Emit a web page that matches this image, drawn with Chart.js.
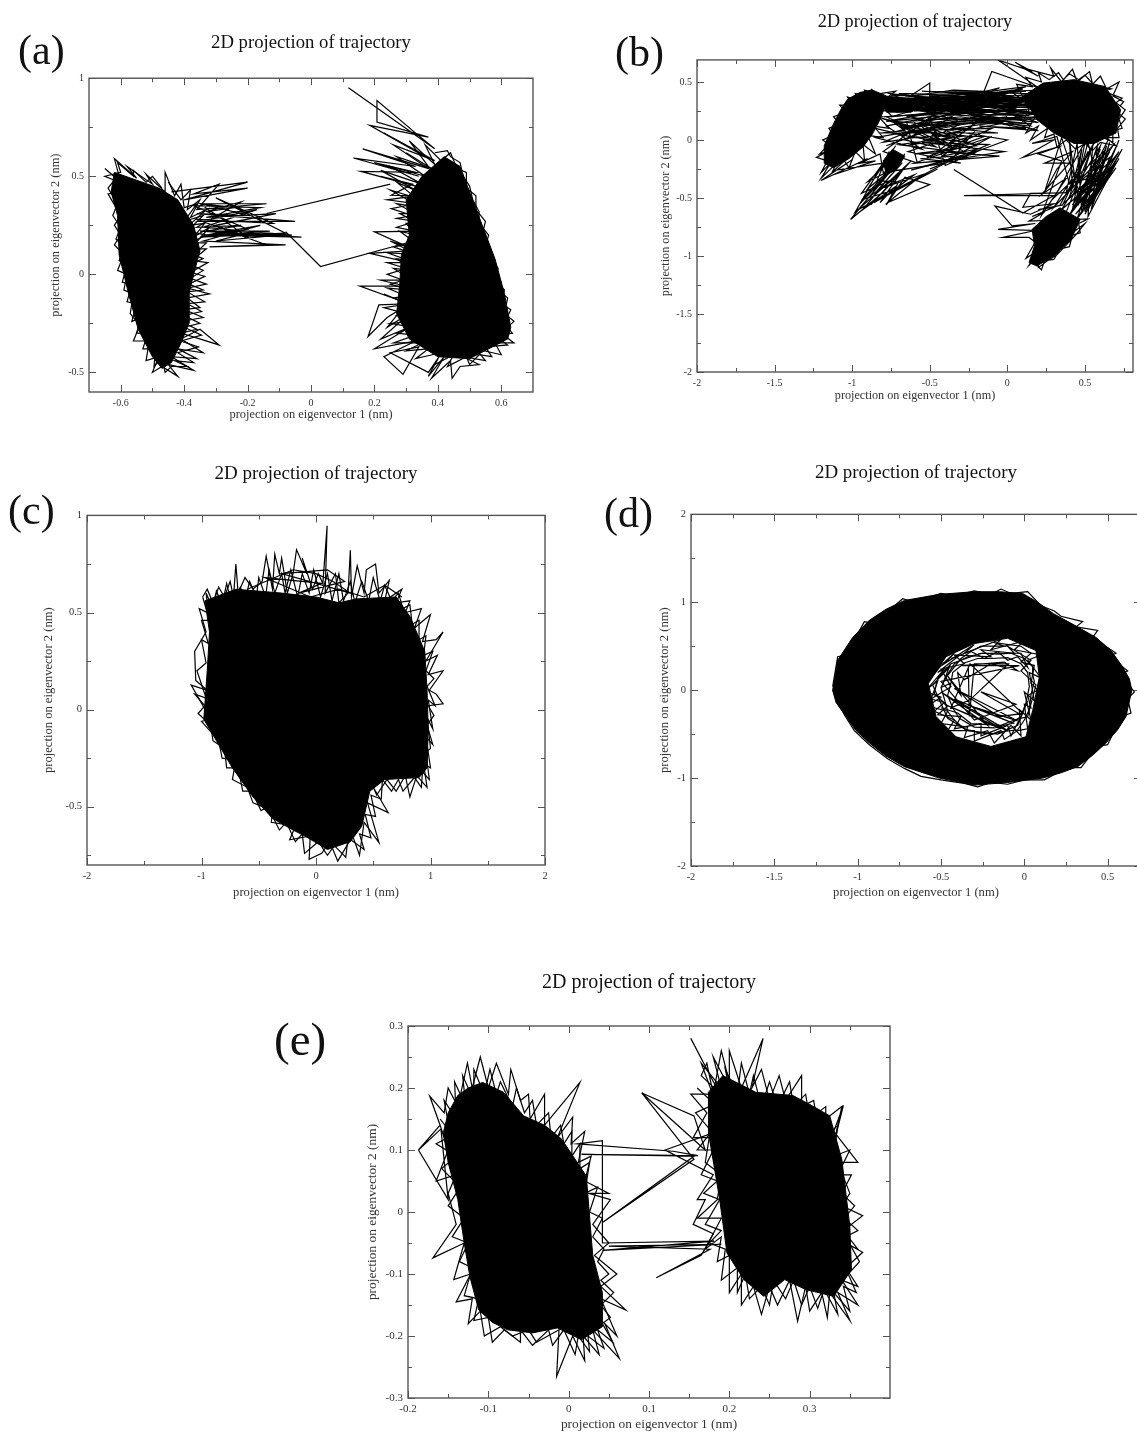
<!DOCTYPE html>
<html><head><meta charset="utf-8">
<script src="https://cdn.jsdelivr.net/npm/chart.js@4/dist/chart.umd.min.js"></script>
<style>
html,body{margin:0;padding:0;background:#fff;width:1137px;height:1434px;overflow:hidden;position:relative}
canvas{position:absolute;filter:blur(.5px)}
.tag{position:absolute;font-family:"Liberation Serif",serif;color:#111;line-height:1;filter:blur(.3px)}
</style></head><body>
<script>
const titleText = "2D projection of trajectory";
const xLabel = "projection on eigenvector 1 (nm)";
const yLabel = "projection on eigenvector 2 (nm)";

/* ---------- tick values ---------- */
const aXTicks=[-.6,-.4,-.2,0,.2,.4,.6], aYTicks=[-.5,0,.5,1];
const bXTicks=[-2,-1.5,-1,-.5,0,.5], bYTicks=[-2,-1.5,-1,-.5,0,.5];
const cXTicks=[-2,-1,0,1,2], cYTicks=[-.5,0,.5,1];
const dXTicks=[-2,-1.5,-1,-.5,0,.5], dYTicks=[-2,-1,0,1,2];
const eXTicks=[-.2,-.1,0,.1,.2,.3], eYTicks=[-.3,-.2,-.1,0,.1,.2,.3];
const aXMinor=[-.5,-.3,-.1,.1,.3,.5], aYMinor=[-.25,.25,.75];
const bXMinor=[-1.75,-1.25,-.75,-.25,.25,.75], bYMinor=[-1.75,-1.25,-.75,-.25,.25];
const cXMinor=[-1.5,-.5,.5,1.5], cYMinor=[-.75,-.25,.25,.75];
const dXMinor=[-1.75,-1.25,-.75,-.25,.25], dYMinor=[-1.5,-.5,.5,1.5];
const eXMinor=[-.15,-.05,.05,.15,.25,.35], eYMinor=[-.25,-.15,-.05,.05,.15,.25];

/* ---------- panel (a) ---------- */
const aLeftCore=[[-.62,.52],[-.55,.48],[-.48,.44],[-.42,.38],[-.37,.25],[-.35,.12],[-.37,0],[-.385,-.1],[-.385,-.25],[-.41,-.35],[-.44,-.45],[-.47,-.48],[-.5,-.42],[-.545,-.28],[-.575,-.1],[-.605,.1],[-.61,.3],[-.63,.42],[-.62,.52]];
const aLeftEdge=[[-.65,.54],[-.6,.47],[-.62,.59],[-.55,.49],[-.58,.55],[-.5,.46],[-.52,.51],[-.46,.42],[-.46,.52],[-.43,.4],[-.41,.46],[-.4,.34],[-.36,.36],[-.4,.27],[-.34,.3],[-.39,.22],[-.33,.2],[-.38,.16],[-.33,.16],[-.37,.1],[-.34,.08],[-.38,.05],[-.34,.02],[-.38,-.02],[-.33,-.05],[-.39,-.07],[-.32,-.1],[-.39,-.12],[-.35,-.17],[-.4,-.18],[-.34,-.22],[-.41,-.24],[-.36,-.28],[-.41,-.3],[-.29,-.36],[-.35,-.28],[-.41,-.33],[-.34,-.4],[-.42,-.38],[-.36,-.43],[-.44,-.42],[-.37,-.49],[-.45,-.46],[-.42,-.52],[-.47,-.47],[-.5,-.5],[-.48,-.42],[-.52,-.44],[-.51,-.34],[-.56,-.34],[-.54,-.26],[-.57,-.2],[-.56,-.1],[-.59,-.08],[-.58,0],[-.61,.02],[-.59,.1],[-.62,.15],[-.6,.2],[-.62,.25],[-.6,.3],[-.64,.41],[-.6,.42]];
const aLeftEdge2=[[-.45,.47],[-.41,.38],[-.38,.43],[-.39,.33],[-.35,.38],[-.38,.29],[-.33,.33],[-.385,.25],[-.335,.26],[-.37,.19],[-.32,.24],[-.38,.13],[-.33,.13],[-.375,.07],[-.325,.06],[-.38,.01],[-.335,-.01],[-.385,-.05],[-.34,-.08],[-.39,-.09],[-.335,-.14],[-.39,-.15],[-.345,-.19],[-.4,-.21],[-.35,-.25],[-.4,-.27],[-.345,-.31],[-.41,-.34],[-.355,-.37],[-.42,-.4],[-.37,-.45],[-.43,-.44],[-.39,-.47],[-.44,-.47],[-.46,-.5],[-.47,-.43],[-.495,-.47],[-.49,-.38],[-.53,-.38],[-.515,-.3],[-.55,-.3],[-.535,-.22],[-.565,-.24],[-.55,-.15],[-.58,-.14],[-.565,-.05],[-.595,-.04],[-.58,.05],[-.605,.07],[-.59,.14],[-.615,.18],[-.6,.24],[-.625,.3],[-.61,.36],[-.64,.44],[-.62,.48],[-.65,.5],[-.6,.52],[-.61,.57],[-.56,.5],[-.56,.53],[-.52,.47],[-.5,.5],[-.47,.44]];
const aHair=[[-.44,.42],[-.2,.47],[-.4,.38],[-.2,.44],[-.37,.41],[-.29,.46],[-.36,.33],[-.14,.36],[-.34,.36],[-.2,.3],[-.36,.31],[-.05,.27],[-.35,.27],[-.17,.33],[-.34,.24],[-.06,.2],[-.35,.22],[-.03,.19],[-.33,.2],[-.16,.25],[-.34,.17],[-.08,.15],[-.32,.14],[-.14,.15],[-.36,.28],[-.12,.26],[-.3,.39],[-.08,.21],[-.35,.19],[-.2,.23],[-.37,.35],[-.16,.34],[-.33,.29],[-.11,.31],[-.3,.25],[-.2,.19],[-.35,.36],[-.24,.34],[-.33,.32],[-.22,.37],[-.36,.24],[-.22,.25],[-.33,.22],[-.13,.22],[-.31,.2],[-.1,.2],[-.3,.17],[-.2,.21]];
const aBridge=[[-.14,.31],[.25,.46]];
const aBridge2=[[-.08,.217],[.03,.04],[.315,.166]];
const aRightCore=[[.42,.6],[.47,.55],[.5,.42],[.54,.25],[.58,.08],[.61,-.1],[.63,-.27],[.62,-.33],[.5,-.43],[.4,-.42],[.31,-.33],[.27,-.2],[.28,-.05],[.285,.1],[.31,.2],[.3,.38],[.35,.5],[.42,.6]];
const aRightEdge=[[.118,.951],[.39,.64],[.33,.72],[.208,.886],[.208,.776],[.37,.7],[.185,.76],[.36,.6],[.23,.72],[.39,.58],[.26,.66],[.37,.54],[.163,.64],[.33,.55],[.134,.593],[.34,.5],[.2,.57],[.33,.52],[.157,.525],[.33,.45],[.22,.5],[.32,.46],[.253,.403],[.33,.4],[.24,.38],[.33,.36],[.253,.335],[.32,.3],[.27,.285],[.33,.27],[.27,.24],[.33,.22],[.2,.217],[.32,.13],[.25,.17],[.31,.12],[.185,.107],[.31,.06],[.24,.06],[.3,.03],[.24,0],[.29,-.03],[.22,-.03],[.3,-.06],[.154,-.06],[.29,-.14],[.23,-.1],[.3,-.15],[.214,-.156],[.18,-.317],[.24,-.22],[.29,-.17],[.24,-.27],[.31,-.2],[.22,-.33],[.31,-.27],[.2,-.38],[.33,-.34],[.23,-.42],[.29,-.51],[.34,-.37],[.25,-.4],[.37,-.5],[.4,-.43],[.37,-.52],[.42,-.42],[.38,-.53],[.44,-.44],[.445,-.53],[.47,-.47],[.53,-.46],[.48,-.42],[.55,-.44],[.52,-.38],[.6,-.41],[.58,-.35],[.64,-.35],[.6,-.3],[.64,-.24],[.61,-.2],[.62,-.12],[.59,-.08],[.6,-.04],[.57,.02],[.57,.08],[.55,.14],[.56,.2],[.53,.26],[.53,.32],[.51,.38],[.5,.45],[.48,.5],[.47,.57],[.44,.6],[.43,.63],[.39,.62]];
const aRightEdge2=[[.3,.62],[.38,.54],[.27,.6],[.36,.5],[.25,.55],[.35,.46],[.22,.53],[.34,.42],[.27,.47],[.33,.39],[.25,.43],[.35,.34],[.27,.36],[.33,.31],[.28,.31],[.34,.26],[.3,.26],[.33,.2],[.28,.22],[.33,.16],[.26,.14],[.33,.1],[.24,.11],[.31,.07],[.27,.08],[.32,.02],[.26,.03],[.31,-.02],[.25,-.05],[.31,-.08],[.24,-.07],[.3,-.11],[.26,-.12],[.31,-.15],[.23,-.17],[.3,-.2],[.27,-.21],[.32,-.24],[.25,-.25],[.32,-.27],[.27,-.3],[.33,-.31],[.26,-.35],[.35,-.35],[.3,-.39],[.37,-.38],[.33,-.43],[.41,-.4],[.39,-.46],[.45,-.41],[.43,-.47],[.49,-.42],[.5,-.46],[.53,-.41],[.57,-.42],[.55,-.37],[.62,-.36],[.58,-.31],[.635,-.3],[.61,-.25],[.63,-.18],[.6,-.15],[.61,-.08],[.58,-.03],[.59,.03],[.56,.1],[.56,.15],[.54,.2],[.55,.27],[.52,.33],[.52,.4],[.49,.44],[.49,.52],[.46,.54],[.44,.62],[.41,.58],[.36,.66],[.39,.56],[.31,.68],[.37,.55]];

/* ---------- panel (b) ---------- */
const bLeftCore=[[-1.03,.35],[-.95,.41],[-.87,.43],[-.78,.38],[-.79,.28],[-.83,.15],[-.87,.05],[-.93,-.06],[-1.02,-.16],[-1.12,-.24],[-1.18,-.2],[-1.18,-.05],[-1.12,.14],[-1.07,.27],[-1.03,.35]];
const bTopCore=[[.1,.375],[.23,.49],[.43,.52],[.63,.46],[.73,.26],[.7,.06],[.56,-.03],[.43,-.03],[.3,.06],[.19,.175],[.1,.375]];
const bLowCore=[[.16,-.77],[.25,-.66],[.34,-.585],[.47,-.685],[.41,-.857],[.3,-1],[.19,-1.086],[.14,-1.057],[.175,-.914],[.16,-.77]];
const bMidCore=[[-.8,-.18],[-.74,-.08],[-.66,-.14],[-.72,-.26],[-.78,-.3],[-.8,-.18]];
const bBandCore=[[-.8,.38],[-.65,.36],[-.55,.3],[-.62,.24],[-.78,.24],[-.8,.38]];
const bBand=[[-.75,.38],[.12,.42],[-.7,.3],[.15,.36],[-.8,.25],[.1,.3],[-.6,.36],[.2,.3],[-.65,.2],[.05,.38],[-.55,.42],[.18,.4],[-.5,.3],[.25,.22],[-.45,.36],[.12,.46],[-.4,.25],[.2,.15],[-.3,.37],[.1,.44],[-.3,.28],[.25,.28],[-.7,.34],[.16,.33],[-.62,.27],[.13,.25],[-.55,.14],[.22,.2],[-.35,.18],[.15,.12],[-.2,.42],[.05,.27],[-.78,.16],[-.2,.3],[-.68,.1],[0,.2],[-.6,.06],[-.15,.22],[-.76,.32],[-.1,.36],[-.72,.24],[-.05,.31],[-.8,.36],[-.22,.33],[-.66,.38],[.02,.34],[-.58,.3],[.08,.24],[-.78,.28],[-.3,.22],[-.62,.33],[-.02,.4],[-.5,.38],[.2,.36],[-.42,.31],[.15,.29],[-.25,.35],[.24,.33],[-.38,.38],[-.12,.42],[-.7,.4],[-.4,.33],[-.75,.2],[-.15,.28],[-.83,.33],[-.5,.24]];
const bBand2=[[-.8,.31],[-.55,.27],[-.78,.35],[-.5,.33],[-.74,.28],[-.45,.23],[-.76,.4],[-.5,.36],[-.72,.36],[-.44,.29],[-.68,.32],[-.35,.34],[-.7,.26],[-.38,.27],[-.65,.36],[-.3,.31],[-.6,.25],[-.25,.26],[-.56,.34],[-.18,.36],[-.5,.27],[-.12,.33],[-.42,.37],[-.06,.37],[-.36,.3],[-.02,.29],[-.28,.34],[.04,.36],[-.2,.27],[.08,.32],[-.15,.39],[.1,.36],[-.08,.28],[.12,.3],[-.04,.35],[.16,.38],[0,.25],[.18,.27],[.02,.42],[.2,.43],[.05,.32],[.22,.36],[-.1,.22],[.2,.23],[-.02,.18],[.24,.18]];
const bBand3=[[-.4,.22],[.1,.18],[-.34,.14],[.16,.14],[-.24,.19],[.12,.1],[-.18,.12],[.2,.08],[-.12,.2],[.02,.12],[-.3,.26],[.14,.21],[-.2,.22],[.06,.28],[-.44,.34],[-.1,.3],[-.5,.18],[-.16,.18],[-.28,.08],[-.04,.14],[-.36,.27],[.04,.22],[-.45,.28],[-.06,.25],[-.52,.22],[-.22,.16]];
const bTopHair=[[-.2,.36],[-.05,.45],[-.5,.3],[-.5,.49],[-.63,.375],[-.4,.42],[-.35,.43],[-.15,.42],[-.1,.59],[.2,.45],[-.06,.69],[.16,.59],[.05,.67],[.2,.55],[.1,.62],[.3,.55],[.28,.62],[.35,.5],[.42,.61],[.45,.5],[.53,.59],[.55,.48],[.6,.55],[.64,.44],[.72,.5],[.68,.38],[.75,.33],[.7,.25],[.76,.18],[.71,.1],[.72,.02],[.64,.02],[.7,-.05],[.6,-.02],[.55,-.09],[.5,-.03],[.44,-.08],[.38,0],[.32,-.06],[.3,.05],[.24,.02],[.26,.1],[.15,0],[.2,.12],[.12,.06],[.18,.2],[.1,.16],[.14,.26],[.06,.48],[.16,.46],[.12,.54],[.22,.5],[.2,.58],[.27,.52],[.33,.58],[.36,.52],[.4,.57],[.46,.52],[.5,.56],[.56,.47],[.67,.44],[.62,.42],[.74,.36],[.7,.32],[.76,.26],[.72,.18],[.74,.1],[.68,.08],[.68,-.02],[.62,.02]];
const bLeftHair=[[-.88,.44],[-.84,.4],[-.92,.43],[-.9,.38],[-.98,.4],[-.96,.34],[-1.03,.37],[-1,.3],[-1.08,.3],[-1.04,.24],[-1.12,.2],[-1.08,.14],[-1.15,.1],[-1.12,.04],[-1.19,0],[-1.15,-.04],[-1.21,-.12],[-1.16,-.1],[-1.23,-.15],[-1.16,-.18],[-1.2,-.28],[-1.14,-.2],[-1.2,-.33],[-1.1,-.2],[-1.13,-.28],[-1.05,-.18],[-1.02,-.24],[-.98,-.1],[-.92,-.18],[-.93,-.04],[-.85,-.12],[-.9,.04],[-.8,.02],[-.86,.12],[-.76,.1],[-.83,.2],[-.74,.2],[-.8,.28],[-.72,.36],[-.78,.36],[-.72,.42],[-.82,.4]];
const bMid=[[-.85,.1],[-.6,.02],[-.8,-.02],[-.5,.15],[-.75,.06],[-.42,-.02],[-.72,.16],[-.38,.12],[-.62,.2],[-.3,.03],[-.65,-.05],[-.25,.1],[-.55,.08],[-.2,-.05],[-.6,-.12],[-.28,-.1],[-.48,.04],[-.15,.03],[-.52,-.15],[-.1,.1],[-.4,.09],[0,0],[-.5,-.25],[-.12,-.04],[-.55,-.02],[-.02,-.1],[-.4,-.18],[-.1,.03],[-.6,-.2],[-.05,-.14],[-.45,-.1],[-.2,.15],[-.7,.12],[-.35,-.07],[-.58,.14],[-.25,-.02],[-.68,.04],[-.32,.17],[-.78,-.05],[-.44,.12],[-.85,.02],[-.55,-.08],[-.78,.12],[-.5,.2],[-.4,-.22],[-.16,-.08],[-.62,-.26],[-.22,-.12],[-.7,-.04],[-.36,.02],[-.84,.2],[-.62,.1],[-.78,.2],[-.46,.23],[-.8,-.1],[-.58,-.2],[-.65,.16],[-.42,.18],[-.3,.2],[-.08,.15],[-.34,.1],[-.06,.06],[-.82,.06],[-.66,.08],[-.74,.16],[-.58,.06],[-.66,0],[-.46,-.06],[-.56,.02],[-.44,.04],[-.52,.16],[-.36,.2],[-.48,.1],[-.3,.14],[-.42,.06],[-.24,.03],[-.36,-.02],[-.2,-.08],[-.42,-.14],[-.22,.06],[-.34,-.14],[-.56,-.16],[-.3,-.2],[-.64,-.1],[-.46,-.02]];
const bArm=[[-.72,-.05],[-.9,-.42],[-.7,-.2],[-.95,-.55],[-.66,-.12],[-1.01,-.685],[-.8,-.45],[-.7,-.3],[-.88,-.56],[-.62,-.18],[-.86,-.48],[-.75,-.3],[-.93,-.6],[-.72,-.4],[-.82,-.54],[-.68,-.27],[-.98,-.62],[-.76,-.1],[-.84,-.35],[-.7,-.36],[-.78,-.56],[-.66,-.32],[-.5,-.385],[-.77,-.54],[-.55,-.3],[-.82,-.42],[-.6,-.3],[-.78,-.48],[-.45,-.25],[-.74,-.44],[-.4,-.2],[-.8,-.28],[-.82,-.12],[-.95,-.2],[-.85,-.18],[-1.12,-.3],[-.9,-.16],[-1.2,-.35],[-1,-.17],[-1.1,-.26],[-.8,-.2],[-.94,-.46],[-.74,-.34],[-.9,-.5],[-.7,-.42],[-.86,-.54],[-.76,-.46],[-.96,-.6],[-.82,-.38],[-.94,-.52],[-.78,-.28],[-.9,-.36],[-.74,-.16],[-.68,-.2],[-.84,-.44]];
const bRightBand=[[.65,0],[.4,-.65],[.72,-.1],[.45,-.68],[.6,-.05],[.35,-.6],[.7,-.2],[.52,-.66],[.55,-.05],[.3,-.58],[.68,-.05],[.42,-.6],[.5,-.02],[.3,-.5],[.62,-.1],[.48,-.62],[.45,-.03],[.38,-.45],[.66,-.15],[.55,-.55],[.58,-.05],[.46,-.55],[.4,0],[.42,-.4],[.52,-.1],[.36,-.55],[.7,-.14],[.5,-.6],[.35,.02],[.24,-.45],[.32,-.25],[.42,-.1],[.24,-.2],[.4,-.2],[.22,-.47],[.38,-.33],[.22,-.65],[.35,-.18],[.2,-.12],[.35,-.05],[.1,-.15],[.3,0],[.16,-.03],[.32,.03],[.4,-.38],[.6,-.3],[.46,-.5],[.63,-.26],[.42,-.6],[.56,-.42],[.64,-.05],[.48,-.58],[.66,-.1],[.42,-.56],[.6,-.14],[.5,-.5],[.68,-.22],[.56,-.48],[.62,-.2],[.46,-.62],[.58,-.24],[.44,-.52],[.54,-.08],[.34,-.56],[.56,-.02],[.38,-.62]];
const bRightBand2=[[.72,0],[.56,-.52],[.7,-.06],[.5,-.62],[.74,-.08],[.6,-.42],[.72,-.16],[.52,-.58],[.7,-.24],[.46,-.66],[.66,-.3],[.5,-.64],[.64,-.34],[.44,-.64],[.6,-.38],[.54,-.6],[.66,-.02],[.58,-.36],[.52,-.02],[.44,-.42],[.48,-.08],[.4,-.5],[.56,-.3],[.48,-.44],[.6,-.08],[.52,-.32]];
const bLowHair=[[-.345,-.255],[.1,-.63],[.3,-.48],[-.28,-.48],[.385,-.455],[.15,-.46],[.1,-.58],[.3,-.55],[.15,-.64],[-.08,-.57],[.03,-.74],[.18,-.72],[-.06,-.77],[.18,-.78],[-.03,-.84],[.14,-.84],[.18,-.88],[.12,-1.02],[.2,-.95],[.14,-1.08],[.2,-1],[.2,-1.1],[.26,-1.04],[.32,-.99],[.37,-.92],[.44,-.82],[.5,-.72],[.17,-1.05],[.22,-1.12],[.24,-1.04],[.3,-1.03],[.34,-.94],[.4,-.92],[.42,-.82],[.47,-.8],[.46,-.72],[.52,-.68],[.14,-.7],[.24,-.62],[.16,-.66],[.3,-.58],[.2,-.6],[.36,-.56]];

/* ---------- panel (c) ---------- */
const cCore=[[-.97,.56],[-.7,.62],[-.3,.6],[0,.58],[.2,.55],[.35,.57],[.7,.58],[.82,.48],[.95,.3],[.97,.1],[.98,-.1],[.97,-.3],[.9,-.35],[.6,-.36],[.47,-.42],[.4,-.6],[.3,-.68],[.1,-.72],[-.1,-.65],[-.2,-.62],[-.38,-.56],[-.55,-.45],[-.73,-.3],[-.85,-.18],[-.98,-.05],[-.95,.2],[-.93,.4],[-.97,.56]];
const cTop=[[-.99,.58],[-.95,.62],[-.9,.55],[-.85,.63],[-.8,.58],[-.75,.66],[-.72,.58],[-.7,.75],[-.68,.6],[-.62,.68],[-.55,.62],[-.47,.66],[-.435,.79],[-.38,.62],[-.36,.8],[-.32,.7],[-.3,.78],[-.25,.6],[-.2,.7],[-.17,.824],[-.08,.7],[-.12,.78],[-.03,.62],[.02,.7],[.06,.65],[.097,.947],[.08,.6],[.17,.7],[.2,.55],[.28,.6],[.3,.82],[.31,.58],[.36,.74],[.42,.6],[.44,.72],[.52,.75],[.55,.6],[.64,.665],[.6,.56],[.75,.62],[.7,.55],[.82,.56],[.78,.5],[.92,.52],[.86,.42],[1,.49],[.93,.35],[1.05,.36],[1.11,.4],[.96,.25],[1.06,.28],[.98,.18],[1.11,.2],[.99,.1],[1.05,.08],[1.11,.03],[.98,.02],[1.03,-.03],[.97,-.08],[1.02,-.18],[.96,-.14],[1,-.3],[.94,-.28],[.97,-.4],[.88,-.34],[.82,-.45],[.78,-.34],[.7,-.42],[.62,-.36],[.53,-.44],[.5,-.4],[.63,-.53],[.45,-.48],[.55,-.685],[.42,-.58],[.38,-.75],[.32,-.65],[.19,-.78],[.12,-.68],[.05,-.74],[-.06,-.77],[-.05,-.65],[-.23,-.67],[-.18,-.6],[-.39,-.58],[-.38,-.52],[-.55,-.48],[-.6,-.4],[-.73,-.36],[-.7,-.26],[-.82,-.25],[-.85,-.16],[-1,-.06],[-.92,-.05],[-1.09,.126],[-.95,.1],[-1.05,.15],[-1.06,.3],[-.96,.4],[-1.02,.52],[-.95,.5],[-.99,.58]];
const cTop2=[[-.96,.6],[-.9,.52],[-.87,.61],[-.82,.54],[-.78,.65],[-.74,.55],[-.66,.63],[-.62,.56],[-.58,.66],[-.52,.58],[-.5,.68],[-.44,.58],[-.41,.72],[-.36,.6],[-.3,.7],[-.27,.6],[-.22,.72],[-.16,.58],[-.12,.7],[-.06,.6],[-.02,.72],[.04,.58],[.1,.7],[.14,.56],[.2,.7],[.24,.56],[.3,.66],[.34,.55],[.4,.66],[.46,.56],[.5,.68],[.56,.56],[.6,.64],[.66,.56],[.72,.6],[.76,.52],[.82,.54],[.84,.44],[.9,.46],[.9,.36],[.96,.38],[.94,.28],[1.02,.3],[.96,.2],[1.03,.16],[.97,.12],[1.04,.02],[.98,.05],[1.02,-.1],[.97,-.04],[1,-.2],[.96,-.22],[.99,-.36],[.93,-.32],[.92,-.4],[.86,-.35],[.76,-.42],[.72,-.36],[.66,-.42],[.58,-.36],[.57,-.46],[.48,-.44],[.52,-.55],[.43,-.54],[.48,-.66],[.38,-.64],[.42,-.72],[.28,-.66],[.26,-.76],[.16,-.7],[.1,-.75],[.02,-.68],[-.1,-.74],[-.12,-.64],[-.18,-.68],[-.26,-.58],[-.32,-.62],[-.42,-.5],[-.48,-.52],[-.56,-.42],[-.64,-.42],[-.68,-.3],[-.78,-.3],[-.8,-.2],[-.9,-.16],[-.92,-.08],[-1.03,-.02],[-.97,.02],[-1.06,.08],[-.96,.06],[-1.04,.2],[-.96,.24],[-1,.36],[-.94,.34],[-1,.46],[-.93,.46],[-.96,.6]];
const cTopInner=[[-.6,.62],[-.2,.72],[0,.7],[.15,.66],[.3,.6],[-.3,.7],[.1,.72],[.25,.66],[-.15,.6],[.05,.65],[-.45,.68],[-.05,.58],[.2,.62],[.42,.58],[.6,.64],[.75,.58]];

/* ---------- panel (d) ---------- */
const dRing=[[-1.12,.34],[-1.03,.6],[-.93,.795],[-.83,.92],[-.72,1.02],[-.51,1.09],[-.3,1.12],[-.15,1.12],[-.01,1.1],[.08,1],[.175,.87],[.3,.74],[.43,.6],[.52,.45],[.59,.265],[.63,.13],[.645,0],[.61,-.3],[.56,-.45],[.49,-.6],[.41,-.74],[.32,-.87],[.22,-.94],[.11,-1],[-.1,-1.05],[-.3,-1.08],[-.51,-1],[-.72,-.87],[-.83,-.75],[-.93,-.6],[-1.01,-.46],[-1.07,-.3],[-1.13,-.14],[-1.15,0],[-1.12,.34],
 [-.576,.076],[-.53,-.3],[-.41,-.53],[-.2,-.64],[.01,-.53],[.05,-.23],[.09,.15],[.07,.45],[-.1,.59],[-.3,.53],[-.47,.38],[-.576,.076],[-1.12,.34]];
const dRim=[[-1.15,.04],[-1.12,.38],[-1.07,.4],[-.96,.78],[-.9,.76],[-.73,1.04],[-.66,1],[-.5,1.1],[-.42,1.07],[-.3,1.13],[-.2,1.09],[-.14,1.15],[-.08,1.1],[.02,1.12],[.1,.96],[.18,.9],[.22,.84],[.35,.78],[.31,.72],[.44,.68],[.41,.6],[.55,.42],[.51,.38],[.62,.22],[.58,.18],[.66,-.02],[.62,-.1],[.64,-.26],[.58,-.3],[.5,-.62],[.44,-.64],[.34,-.88],[.26,-.88],[.12,-1.02],[0,-1.02],[-.1,-1.07],[-.2,-1.05],[-.28,-1.1],[-.36,-1.06],[-.5,-1.02],[-.62,-.98],[-.72,-.89],[-.82,-.78],[-.93,-.62],[-1.02,-.46],[-1.08,-.28],[-1.15,0]];
const dHoleRing1=[[-.62,0],[-.5,.28],[-.56,.18],[-.42,.42],[-.48,.3],[-.3,.52],[-.36,.42],[-.14,.58],[-.2,.46],[0,.56],[-.06,.46],[.1,.4],[.02,.34],[.1,.14],[.03,.2],[.06,-.12],[0,-.02],[.04,-.34],[-.03,-.22],[-.02,-.52],[-.08,-.4],[-.18,-.6],[-.22,-.46],[-.36,-.54],[-.34,-.42],[-.5,-.38],[-.46,-.24],[-.58,-.18],[-.5,-.08],[-.62,0]];
const dHoleRing2=[[-.55,.06],[-.45,.26],[-.48,.12],[-.38,.36],[-.32,.44],[-.24,.36],[-.16,.44],[-.1,.34],[-.04,.38],[.02,.26],[-.02,.42],[-.26,.42],[-.44,.3],[-.52,.14],[-.54,-.04],[-.46,-.18],[-.52,-.28],[-.38,-.3],[-.42,-.44],[-.26,-.38],[-.26,-.52],[-.1,-.4],[-.08,-.52],[-.02,-.3],[.02,-.12],[-.04,-.4],[-.16,-.5],[-.34,-.46],[-.46,-.32],[-.55,.06]];
const dHoleRing3=[[-.56,-.1],[-.52,.1],[-.58,.02],[-.48,.24],[-.52,.2],[-.4,.38],[-.44,.36],[-.3,.46],[-.26,.5],[-.12,.5],[-.18,.54],[-.02,.5],[.04,.42],[-.02,.32],[.06,.28],[.04,.08],[.08,0],[.02,-.06],[.04,-.2],[0,-.16],[.02,-.44],[-.04,-.46],[-.12,-.56],[-.14,-.46],[-.3,-.58],[-.3,-.46],[-.46,-.46],[-.42,-.34],[-.54,-.24],[-.48,-.14],[-.56,-.1],[-.44,.04],[-.5,.24],[-.36,.3],[-.42,.4],[-.2,.38],[-.26,.46],[-.06,.42],[-.1,.5],[.04,.34],[-.02,.22],[.07,.06],[.02,-.3],[-.06,-.34],[-.14,-.4],[-.32,-.38],[-.4,-.26],[-.5,-.2]];
const dHoleRing4=[[-.5,.03],[-.46,.18],[-.42,.3],[-.34,.38],[-.25,.42],[-.16,.41],[-.08,.42],[0,.36],[.05,.27],[.05,.18],[.06,.1],[.04,-.05],[.03,-.22],[0,-.34],[-.04,-.45],[-.12,-.47],[-.2,-.5],[-.28,-.48],[-.36,-.44],[-.42,-.34],[-.46,-.24],[-.48,-.1],[-.5,.03],[-.44,.08],[-.43,.2],[-.36,.31],[-.28,.36],[-.2,.36],[-.1,.37],[-.02,.3],[.02,.2],[.03,.04],[.01,-.14],[-.02,-.3],[-.08,-.38],[-.18,-.43],[-.3,-.42],[-.39,-.32],[-.43,-.2],[-.46,-.06],[-.44,.08]];
const dCross=[[-.336,.265],[-.33,-.3],[-.3,.3],[-.096,.3],[-.326,-.11],[-.44,-.2],[-.326,.3],[-.01,-.265],[-.15,-.3],[-.42,.02],[-.04,-.35],[-.34,-.17],[-.06,-.38],[-.42,-.1],[-.1,-.46],[-.48,-.16],[-.14,-.44],[-.5,-.02],[-.22,-.4],[-.46,.16],[-.38,-.06],[-.4,.2],[-.36,.12],[-.2,.3],[-.04,.22],[-.12,.32],[-.38,.28],[-.03,.28],[-.5,.1],[-.3,-.34],[-.05,-.16],[-.26,-.02],[-.02,-.28]];

/* ---------- panel (e) ---------- */
const eLeftCore=[[-.107,.209],[-.125,.2],[-.138,.188],[-.15,.16],[-.156,.128],[-.15,.08],[-.138,.02],[-.13,-.05],[-.123,-.104],[-.112,-.158],[-.095,-.178],[-.076,-.19],[-.045,-.195],[-.014,-.187],[.016,-.206],[.042,-.185],[.042,-.13],[.03,-.07],[.027,-.023],[.022,.058],[-.009,.118],[-.03,.14],[-.056,.155],[-.081,.193],[-.107,.209]];
const eRightCore=[[.192,.22],[.215,.205],[.233,.193],[.279,.188],[.305,.17],[.325,.155],[.34,.085],[.35,-.023],[.352,-.093],[.33,-.136],[.295,-.125],[.269,-.109],[.243,-.136],[.218,-.109],[.197,-.066],[.188,.02],[.174,.128],[.174,.193],[.192,.22]];
const eLeftEdge=[[-.187,.1],[-.15,.02],[-.159,.134],[-.187,.1],[-.16,.14],[-.173,.187],[-.155,.16],[-.15,.2],[-.138,.17],[-.126,.24],[-.12,.2],[-.11,.25],[-.1,.2],[-.09,.24],[-.075,.19],[-.072,.23],[-.06,.18],[-.05,.19],[-.048,.15],[-.03,.19],[-.03,.14],[.014,.209],[-.014,.12],[.005,.153],[.003,.11],[.02,.13],[.012,.08],[.028,.09],[.02,.05],[.05,.03],[.025,.03],[.052,.02],[.03,-.02],[.05,-.05],[.032,-.07],[.06,-.1],[.04,-.12],[.071,-.158],[.04,-.14],[.06,-.2],[.045,-.18],[.063,-.236],[.03,-.19],[.038,-.23],[.018,-.2],[.02,-.24],[.005,-.2],[-.015,-.265],[-.012,-.19],[-.04,-.21],[-.05,-.19],[-.07,-.2],[-.085,-.185],[-.105,-.2],[-.11,-.16],[-.125,-.18],[-.12,-.14],[-.14,-.145],[-.122,-.1],[-.143,-.109],[-.13,-.05],[-.169,-.074],[-.14,-.02],[-.15,.03],[-.14,.06],[-.165,.05],[-.15,.1],[-.16,.14]];
const eLeftEdge2=[[-.16,.15],[-.148,.13],[-.155,.18],[-.14,.15],[-.142,.21],[-.128,.17],[-.132,.22],[-.118,.18],[-.118,.23],[-.105,.19],[-.098,.23],[-.09,.19],[-.085,.21],[-.07,.17],[-.065,.2],[-.055,.16],[-.045,.18],[-.04,.14],[-.025,.16],[-.022,.12],[-.01,.14],[-.006,.11],[.004,.13],[.004,.09],[.014,.11],[.014,.07],[.026,.08],[.02,.03],[.036,.04],[.026,0],[.042,-.01],[.03,-.04],[.044,-.06],[.036,-.08],[.05,-.1],[.04,-.11],[.056,-.13],[.04,-.15],[.052,-.17],[.042,-.18],[.055,-.21],[.036,-.19],[.044,-.22],[.024,-.2],[.026,-.225],[.012,-.2],[.008,-.23],[-.006,-.19],[-.02,-.215],[-.025,-.19],[-.045,-.215],[-.06,-.19],[-.06,-.21],[-.08,-.19],[-.095,-.21],[-.1,-.17],[-.118,-.175],[-.112,-.14],[-.13,-.135],[-.12,-.09],[-.136,-.08],[-.125,-.05],[-.145,-.04],[-.13,-.01],[-.15,.01],[-.135,.04],[-.158,.07],[-.14,.09],[-.165,.11],[-.15,.12]];
const eRightEdge=[[.152,.28],[.187,.193],[.165,.22],[.172,.24],[.18,.19],[.19,.26],[.2,.21],[.2,.26],[.215,.2],[.242,.28],[.228,.2],[.24,.23],[.25,.18],[.262,.22],[.27,.18],[.29,.22],[.29,.17],[.305,.18],[.31,.14],[.34,.17],[.33,.11],[.342,.172],[.33,.13],[.36,.08],[.335,.08],[.35,.03],[.34,.01],[.366,-.006],[.342,-.03],[.36,-.06],[.345,-.05],[.366,-.065],[.345,-.09],[.36,-.12],[.34,-.11],[.36,-.15],[.335,-.13],[.35,-.175],[.325,-.13],[.322,-.17],[.315,-.13],[.3,-.16],[.295,-.12],[.285,-.176],[.275,-.11],[.26,-.15],[.25,-.12],[.24,-.165],[.23,-.12],[.215,-.15],[.215,-.1],[.2,-.13],[.2,-.07],[.185,-.08],[.19,-.04],[.17,-.06],[.19,-.01],[.16,-.01],[.185,.02],[.19,.06],[.17,.08],[.175,.12],[.155,.12],[.172,.16],[.152,.19],[.18,.19]];
const eRightEdge2=[[.16,.2],[.185,.17],[.165,.24],[.19,.2],[.18,.25],[.2,.2],[.195,.23],[.21,.19],[.215,.24],[.225,.19],[.23,.22],[.24,.17],[.25,.21],[.26,.17],[.275,.21],[.28,.17],[.295,.19],[.3,.15],[.32,.17],[.32,.12],[.335,.14],[.33,.09],[.35,.1],[.335,.06],[.352,.06],[.34,.03],[.356,.01],[.343,-.01],[.36,-.03],[.345,-.04],[.362,-.08],[.348,-.1],[.358,-.13],[.342,-.12],[.35,-.16],[.33,-.13],[.335,-.165],[.318,-.125],[.31,-.155],[.3,-.12],[.29,-.15],[.28,-.11],[.27,-.14],[.255,-.11],[.25,-.15],[.24,-.12],[.225,-.14],[.22,-.1],[.21,-.13],[.21,-.09],[.19,-.11],[.195,-.06],[.175,-.05],[.19,-.03],[.17,-.02],[.188,.02],[.168,.03],[.185,.05],[.165,.06],[.18,.1],[.16,.1],[.178,.13],[.158,.16],[.175,.17]];
const eLink=[[.091,.192],[.156,.155],[.17,.1],[.091,.192],[.156,.085],[.042,-.017],[.156,.09],[.016,.093],[.161,.091],[.13,.098],[.011,.11],[.042,.115],[.042,-.05],[.181,-.047],[.042,-.062],[.19,-.052],[.05,-.055],[.176,-.06],[.109,-.106],[.165,-.07],[.18,-.035],[.155,-.02],[.17,.02],[.16,.02],[.18,.06],[.12,.1],[.185,.13]];

const ink="#000";
const line=(pts,width)=>({data:pts.map(p=>({x:p[0],y:p[1]})),showLine:true,borderColor:ink,borderWidth:width||1.2,pointRadius:0,tension:0,fill:false});
const solid=pts=>({...line(pts,1),fill:'shape',backgroundColor:ink});

const panels=[
 {box:[89,533,78,392],x:[-.7,.7],y:[-.6,1],xt:aXTicks,yt:aYTicks,xm:aXMinor,ym:aYMinor,tg:35,ts:18.7,yg:34,xg:23,fs:12.4,tick:10,
  sets:[solid(aLeftCore),solid(aRightCore),line(aLeftEdge),line(aLeftEdge2),line(aHair),line(aBridge),line(aBridge2),line(aRightEdge),line(aRightEdge2)]},
 {box:[697,1133,60,372],x:[-2,.81],y:[-2,.69],xt:bXTicks,yt:bYTicks,xm:bXMinor,ym:bYMinor,tg:38,ts:18.2,yg:32,xg:24,fs:12.2,tick:10,
  sets:[solid(bLeftCore),solid(bTopCore),solid(bLowCore),solid(bMidCore),solid(bBandCore),line(bBand),line(bBand2),line(bBand3),line(bTopHair),line(bLeftHair),line(bMid),line(bArm),line(bRightBand),line(bRightBand2),line(bLowHair)]},
 {box:[87,545,515,865],x:[-2,2],y:[-.8,1],xt:cXTicks,yt:cYTicks,xm:cXMinor,ym:cYMinor,tg:41,ts:19,yg:38,xg:27,fs:12.6,tick:10.5,
  sets:[solid(cCore),line(cTop),line(cTop2),line(cTopInner)]},
 {box:[691,1141,514,866],x:[-2,.7],y:[-2,2],xt:dXTicks,yt:dYTicks,xm:dXMinor,ym:dYMinor,tg:41,ts:18.9,yg:26,xg:26,fs:12.6,tick:10.5,
  sets:[solid(dRing),line(dRim),line(dHoleRing1),line(dHoleRing2),line(dHoleRing3),line(dHoleRing4),line(dCross)]},
 {box:[408,890,1026,1398],x:[-.2,.4],y:[-.3,.3],xt:eXTicks,yt:eYTicks,xm:eXMinor,ym:eYMinor,tg:43,ts:20,yg:36,xg:27,fs:13.4,tick:11,
  sets:[solid(eLeftCore),solid(eRightCore),line(eLeftEdge),line(eLeftEdge2),line(eRightEdge),line(eRightEdge2),line(eLink)]}
];
const tags=[["(a)",18,29,42],["(b)",615,31,42],["(c)",8,489,42],["(d)",604,492,42],["(e)",274,1016,47]];
tags.forEach(t=>{const d=document.createElement('div');d.className='tag';d.textContent=t[0];d.style.left=t[1]+'px';d.style.top=t[2]+'px';d.style.fontSize=t[3]+'px';document.body.appendChild(d);});

const frameTicks={id:'frameTicks',
 afterLayout(chart){const a=chart.chartArea,t=chart.titleBlock;if(t){t.left=a.left;t.right=a.right;}},
 afterDatasetsDraw(chart,args,o){
  const {ctx,chartArea:a,scales:{x,y}}=chart;
  ctx.save();ctx.strokeStyle='#555';ctx.lineWidth=1;ctx.beginPath();
  const tx=(v,l)=>{const p=Math.round(x.getPixelForValue(v))+.5;ctx.moveTo(p,a.top);ctx.lineTo(p,a.top+l);ctx.moveTo(p,a.bottom);ctx.lineTo(p,a.bottom-l);};
  const ty=(v,l)=>{const p=Math.round(y.getPixelForValue(v))+.5;ctx.moveTo(a.left,p);ctx.lineTo(a.left+l,p);ctx.moveTo(a.right,p);ctx.lineTo(a.right-l,p);};
  o.xt.forEach(v=>tx(v,7));o.xm.forEach(v=>tx(v,4));o.yt.forEach(v=>ty(v,7));o.ym.forEach(v=>ty(v,4));
  ctx.stroke();ctx.lineWidth=1.4;ctx.strokeRect(a.left,a.top,a.right-a.left,a.bottom-a.top);ctx.restore();
}};

panels.forEach(p=>{
  const [L,R,T,B]=p.box;
  const W=Math.round(p.yg+p.fs*.6), H=Math.round(p.xg+p.fs*.6), RP=16;
  const pTop=2, pBot=p.tg-p.ts*.6, TT=pTop+p.ts*1.2+pBot;
  const c=document.createElement('canvas');
  const cw=R-L+W+RP, ch=Math.round(TT)+(B-T)+H;
  c.style.left=(L-W)+'px';c.style.top=(T-Math.round(TT))+'px';c.style.width=cw+'px';c.style.height=ch+'px';
  c.width=cw;c.height=ch;document.body.appendChild(c);
  const tickFont={family:'"Liberation Serif",serif',size:p.tick};
  const axis=(range,ticks,label,fit)=>({type:'linear',min:range[0],max:range[1],grid:{display:false,drawTicks:false},border:{display:false},
    afterBuildTicks:s=>{s.ticks=ticks.map(v=>({value:v}));},
    afterFit:fit,
    ticks:{autoSkip:false,maxRotation:0,color:'#333',font:tickFont,callback:v=>String(v),padding:5},
    title:{display:true,text:label,color:'#333',font:{family:'"Liberation Serif",serif',size:p.fs},padding:0}});
  new Chart(c,{type:'scatter',data:{datasets:p.sets},plugins:[frameTicks],options:{
    responsive:false,animation:false,layout:{padding:{right:RP}},
    plugins:{legend:{display:false},tooltip:{enabled:false},
      title:{display:true,text:titleText,color:'#111',font:{family:'"Liberation Serif",serif',size:p.ts,weight:'normal'},padding:{top:pTop,bottom:pBot}},
      frameTicks:{xt:p.xt,yt:p.yt,xm:p.xm,ym:p.ym}},
    scales:{x:axis(p.x,p.xt,xLabel,s=>{s.height=H;}),y:axis(p.y,p.yt,yLabel,s=>{s.width=W;})}
  }});
});
</script></body></html>
